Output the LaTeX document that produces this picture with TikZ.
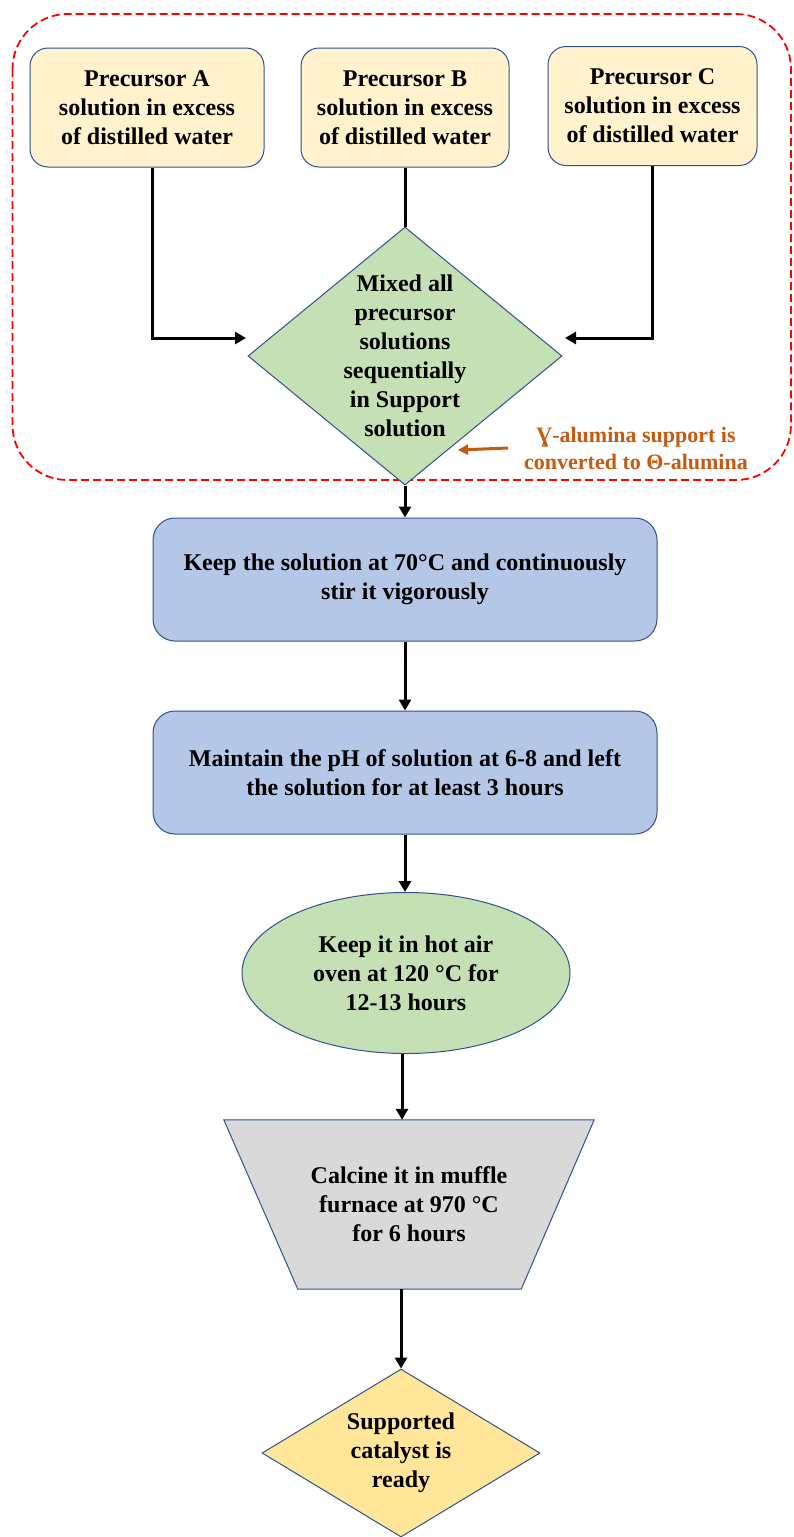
\documentclass[tikz,border=0pt]{standalone}
\usepackage{fontspec}
\setmainfont{Liberation Serif}
\usetikzlibrary{shapes.geometric,arrows.meta,backgrounds,calc}
\definecolor{boxline}{HTML}{2F528F}
\definecolor{yellowfill}{HTML}{FFF2CC}
\definecolor{greenfill}{HTML}{C5E0B4}
\definecolor{bluefill}{HTML}{B4C7E7}
\definecolor{grayfill}{HTML}{D9D9D9}
\definecolor{goldfill}{HTML}{FFE699}
\definecolor{orangec}{HTML}{C55A11}
\begin{document}
\begin{tikzpicture}[x=1pt,y=-1pt,
  every node/.style={font=\fontsize{24}{29}\selectfont\bfseries, align=center, inner sep=0pt},
  yellowbox/.style={draw=boxline, line width=1pt, fill=yellowfill, rounded corners=18pt, minimum height=119pt},
  bluebox/.style={draw=boxline, line width=1pt, fill=bluefill, rounded corners=22pt, minimum width=504pt, minimum height=123pt},
  shapeline/.style={draw=boxline, line width=1pt},
  arr/.style={line width=3pt, -{Triangle[length=11pt,width=12pt]}},
  conn/.style={line width=3pt},
  annfont/.style={font=\fontsize{22}{27}\selectfont\bfseries, text=orangec},
]
\useasboundingbox (0,0) rectangle (793,1537);

% dashed group frame
\draw[red, dash pattern=on 8pt off 4pt, line width=1.8pt, rounded corners=55pt] (12.5,14) rectangle (791,480);

% precursor boxes
\node[yellowbox, minimum width=234pt] (A) at (147,107.5) {Precursor A\\solution in excess\\of distilled water};
\node[yellowbox, minimum width=208pt] (B) at (405,107.5) {Precursor B\\solution in excess\\of distilled water};
\node[yellowbox, minimum width=209pt] (C) at (652.5,106) {Precursor C\\solution in excess\\of distilled water};

% mixing diamond
\node[diamond, shapeline, fill=greenfill, minimum width=314pt, minimum height=258pt] (dia) at (405,356) {};
\node (diatext) at (dia.center) {Mixed all\\precursor\\solutions\\sequentially\\in Support\\solution};

% annotation
\node[annfont] (ann) at (636,448) {Ɣ-alumina support is\\converted to Θ-alumina};
\coordinate (annS) at (508,448);
\coordinate (annE) at (458,450);
\draw[orangec, line width=3pt, -{Triangle[length=10pt,width=10pt]}] (annS) -- (annE);

% process steps
\node[bluebox] (k1) at (405,579.5) {Keep the solution at 70°C and continuously\\stir it vigorously};
\node[bluebox] (k2) at (405,772.5) {Maintain the pH of solution at 6-8 and left\\the solution for at least 3 hours};
\node[ellipse, shapeline, fill=greenfill, minimum width=328pt, minimum height=161pt] (ell) at (406,973) {Keep it in hot air\\oven at 120 °C for\\12-13 hours};
\node[minimum width=370pt, minimum height=169pt] (trap) at (409,1204.5) {Calcine it in muffle\\furnace at 970 °C\\for 6 hours};
\begin{scope}[on background layer]
  \fill[white] (0,0) rectangle (793,1537);
  \filldraw[shapeline, fill=grayfill] (trap.north west) -- (trap.north east)
    -- ($(trap.south east)+(-73,0)$) -- ($(trap.south west)+(74,0)$) -- cycle;
\end{scope}
\node[diamond, shapeline, fill=goldfill, minimum width=278pt, minimum height=168pt] (ready) at (401,1453) {};
\node (readytext) at (ready.center) {Supported\\catalyst is\\ready};

% connectors
\coordinate (aend) at (246,338);
\coordinate (cend) at (565,338);
\draw[arr] ([xshift=5pt]A.south) |- (aend);
\draw[arr] (C.south) |- (cend);
\draw[conn] (B.south) -- (dia.north);
\draw[arr] (dia.south) -- (k1.north);
\draw[arr] (k1.south) -- (k2.north);
\draw[arr] (k2.south) -- (k2.south |- ell.north);
\draw[arr] ([xshift=-4pt]ell.south) -- ([xshift=-4pt]ell.south |- trap.north);
\draw[arr] (ready.north |- trap.south) -- (ready.north);
\end{tikzpicture}
\end{document}
